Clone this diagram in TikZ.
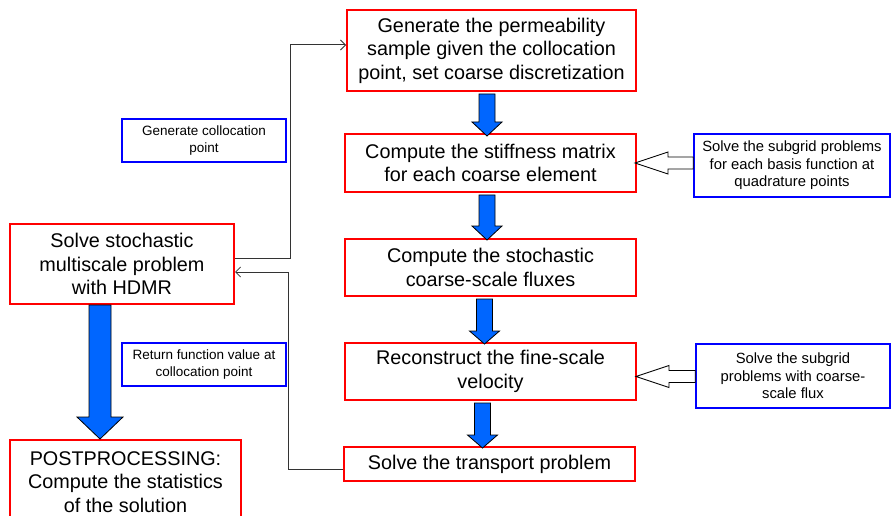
\documentclass[tikz,border=0pt]{standalone}
\usepackage{fontspec}
\setmainfont{Liberation Sans}
\usetikzlibrary{calc,arrows.meta}
\definecolor{arrowblue}{RGB}{0,102,255}
\definecolor{boxred}{RGB}{255,0,0}
\definecolor{boxblue}{RGB}{0,0,255}
\tikzset{
  redbox/.style={draw=boxred, line width=2pt, align=center, inner sep=0pt,
    font=\fontsize{19.8}{23.5}\selectfont},
  bluebox/.style={draw=boxblue, line width=2pt, align=center, inner sep=0pt,
    font=\fontsize{13.5}{17}\selectfont},
  subbox/.style={draw=boxblue, line width=1.6pt, align=center, inner sep=0pt,
    font=\fontsize{14.8}{17.5}\selectfont},
  arrowfill/.style={fill=arrowblue, draw=black, line width=0.8pt, line join=miter},
  hollow/.style={fill=white, draw=black, line width=0.8pt, line join=miter},
  conn/.style={draw=black!80, line width=1pt, -{Straight Barb[length=5pt,width=10pt,line width=0.8pt]}}
}
% block arrow: #1 start, #2 end, #3 half shaft, #4 half head, #5 head length
\newcommand{\blockarr}[5]{%
  \draw[arrowfill] let \p1=(#1), \p2=(#2) in
    (\x1-#3,\y1) -- (\x1+#3,\y1) -- (\x1+#3,\y2+#5) -- (\x1+#4,\y2+#5) --
    (\x1,\y2) -- (\x1-#4,\y2+#5) -- (\x1-#3,\y2+#5) -- cycle;}
% hollow leftward arrow: #1 base, #2 tip
\newcommand{\hollowarr}[2]{%
  \draw[hollow] let \p1=(#1), \p2=(#2) in
    (\x1,\y2+6pt) -- (\x2+33pt,\y2+6pt) -- (\x2+33pt,\y2+11pt) -- (\x2,\y2) --
    (\x2+33pt,\y2-11pt) -- (\x2+33pt,\y2-6pt) -- (\x1,\y2-6pt) -- cycle;}
\begin{document}
\begin{tikzpicture}[x=1pt,y=-1pt]
\useasboundingbox (0,0) rectangle (892,516);
\begin{scope}
\clip (0,0) rectangle (892,516);
% main column
\node[redbox, minimum width=289, minimum height=81] (G) at (491.5,50.5)
  {Generate the permeability\\sample given the collocation\\point, set coarse discretization};
\node[redbox, minimum width=291, minimum height=58] (S) at (490.5,163)
  {Compute the stiffness matrix\\for each coarse element};
\node[redbox, minimum width=291, minimum height=57] (F) at (490.5,267.5)
  {Compute the stochastic\\coarse-scale fluxes};
\node[redbox, minimum width=291, minimum height=57] (R) at (490.5,371.5)
  {Reconstruct the fine-scale\\velocity};
\node[redbox, minimum width=291, minimum height=34] (T) at (489.5,464)
  {Solve the transport problem};
% left column
\node[redbox, minimum width=224, minimum height=80] (H) at (122,264)
  {Solve stochastic\\multiscale problem\\with HDMR};
\node[redbox, minimum width=231, minimum height=84] (P) at (125.5,482)
  {POSTPROCESSING:\\Compute the statistics\\of the solution};
% blue label boxes
\node[bluebox, minimum width=164, minimum height=43] (C) at (204,140.5)
  {Generate collocation\\point};
\node[bluebox, minimum width=164, minimum height=43] (Ret) at (204,364.5)
  {Return function value at\\collocation point};
\node[subbox, minimum width=196, minimum height=63] (Sub1) at (792,165.5)
  {Solve the subgrid problems\\for each basis function at\\quadrature points};
\node[subbox, minimum width=194, minimum height=64] (Sub2) at (793,376)
  {Solve the subgrid\\problems with coarse-\\scale flux};
% block arrows
\blockarr{$(G.south)+(-4.5,2)$}{$(S.north)+(0,3)$}{8pt}{15pt}{14pt}
\blockarr{$(S.south)+(-3.5,2)$}{$(F.north)+(0,2)$}{8pt}{15pt}{14pt}
\blockarr{$(F.south)+(-6,2)$}{$(R.north)+(0,2)$}{8pt}{15pt}{13pt}
\blockarr{$(R.south)+(-8,2)$}{$(T.north)+(0,2)$}{8pt}{15pt}{13pt}
\blockarr{$(H.south)+(-22,0)$}{$(P.north)+(0,0)$}{11pt}{23pt}{22pt}
% hollow arrows
\hollowarr{Sub1.west}{$(S.east)+(-2,0)$}
\hollowarr{Sub2.west}{$(R.east)+(-1,5)$}
% connectors
\draw[conn] ([yshift=6pt]H.east) -- ++(55,0) |- ([yshift=5.5pt]G.west);
\draw[conn] ([yshift=-5pt]T.west) -- ++(-55,0) |- ([yshift=-8pt]H.east);
\end{scope}
\end{tikzpicture}
\end{document}
